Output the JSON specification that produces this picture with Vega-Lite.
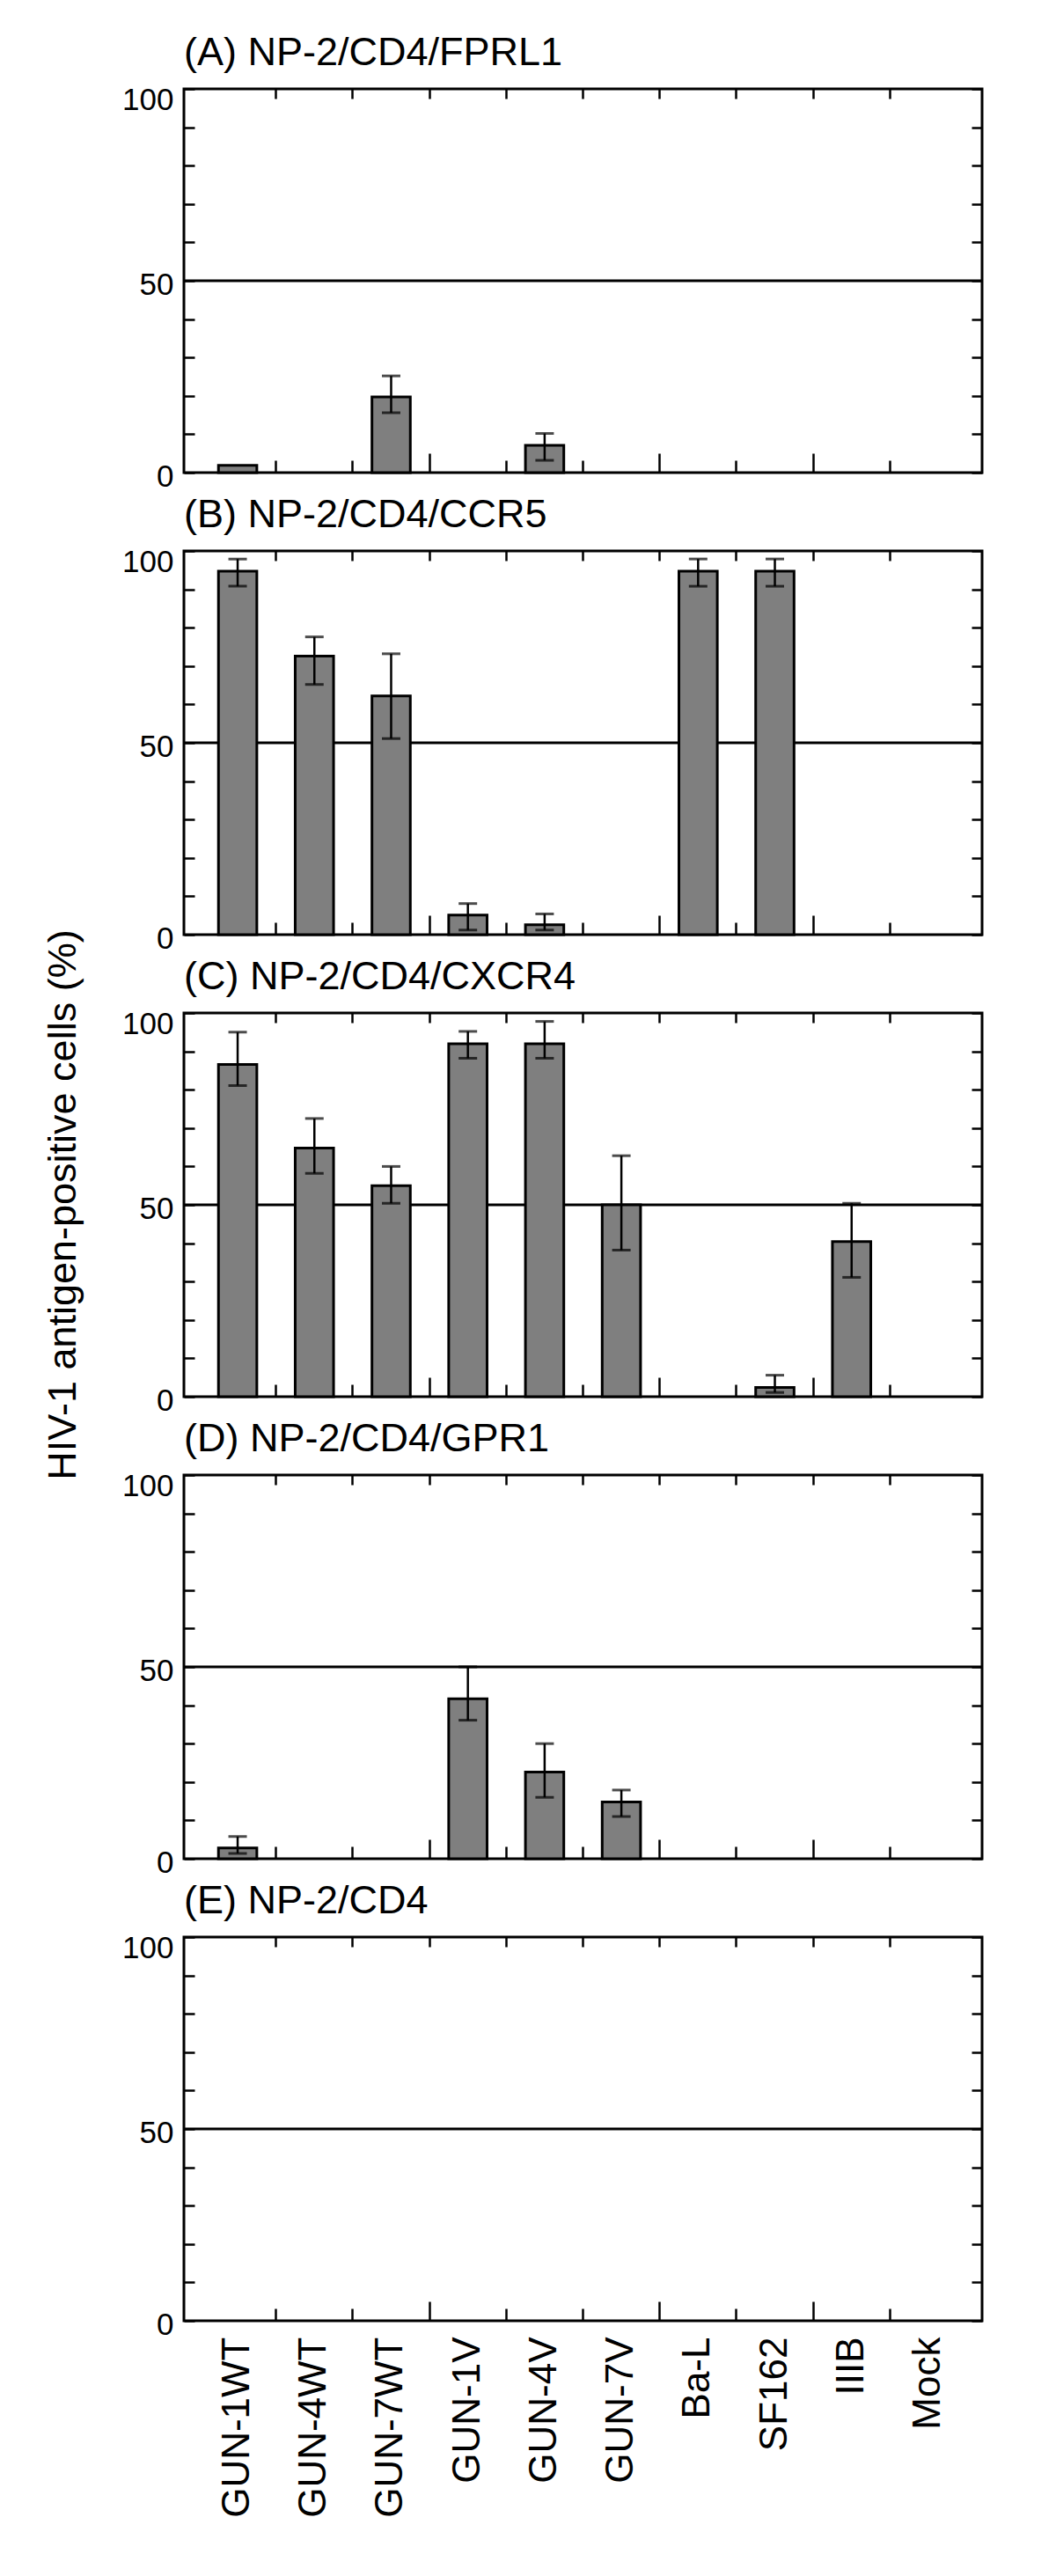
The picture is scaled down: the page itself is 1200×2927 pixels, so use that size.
{
"$schema": "https://vega.github.io/schema/vega-lite/v6.json",
"padding": {"left": 50, "top": 36, "right": 5, "bottom": 5},
"background": "white",
"datasets": {"bars": [
{"p":"A","cat":"GUN-1WT","val":1.9},
{"p":"A","cat":"GUN-7WT","val":19.7,"lo":15.6,"hi":25.2},
{"p":"A","cat":"GUN-4V","val":7.1,"lo":3.2,"hi":10.2},
{"p":"B","cat":"GUN-1WT","val":94.7,"lo":90.8,"hi":97.9},
{"p":"B","cat":"GUN-4WT","val":72.6,"lo":65.2,"hi":77.6},
{"p":"B","cat":"GUN-7WT","val":62.2,"lo":51.1,"hi":73.2},
{"p":"B","cat":"GUN-1V","val":5.1,"lo":1.2,"hi":8.1},
{"p":"B","cat":"GUN-4V","val":2.6,"lo":1.2,"hi":5.4},
{"p":"B","cat":"Ba-L","val":94.7,"lo":90.8,"hi":97.9},
{"p":"B","cat":"SF162","val":94.7,"lo":90.8,"hi":97.9},
{"p":"C","cat":"GUN-1WT","val":86.6,"lo":81.1,"hi":95.0},
{"p":"C","cat":"GUN-4WT","val":64.8,"lo":58.2,"hi":72.5},
{"p":"C","cat":"GUN-7WT","val":55.0,"lo":50.4,"hi":60.0},
{"p":"C","cat":"GUN-1V","val":92.0,"lo":88.2,"hi":95.2},
{"p":"C","cat":"GUN-4V","val":92.0,"lo":88.2,"hi":97.8},
{"p":"C","cat":"GUN-7V","val":50.0,"lo":38.2,"hi":62.8},
{"p":"C","cat":"SF162","val":2.4,"lo":1.1,"hi":5.6},
{"p":"C","cat":"IIIB","val":40.4,"lo":31.1,"hi":50.4},
{"p":"D","cat":"GUN-1WT","val":2.8,"lo":1.4,"hi":5.8},
{"p":"D","cat":"GUN-1V","val":41.7,"lo":36.1,"hi":50.0},
{"p":"D","cat":"GUN-4V","val":22.6,"lo":16.0,"hi":30.0},
{"p":"D","cat":"GUN-7V","val":14.8,"lo":11.0,"hi":17.9}
]},
"data": {"name": "bars"},
"spacing": 117,
"bounds": "flush",
"hconcat": [
{
"width": 40, "height": 2536,
"view": {"stroke": null},
"data": {"values": [{}]},
"mark": {"type": "text", "text": "HIV-1 antigen-positive cells (%)", "angle": 270, "font": "Liberation Sans", "fontSize": 45, "align": "center", "baseline": "middle", "color": "black"},
"encoding": {}
},
{
"spacing": 89,
"bounds": "flush",
"vconcat": [
{
"width": 907, "height": 436,
"title": "(A) NP-2/CD4/FPRL1",
"layer": [
{"data": {"values": [{}]}, "mark": {"type": "rule", "color": "black", "strokeWidth": 3}, "encoding": {"y": {"datum": 50, "type": "quantitative", "scale": {"domain": [0, 100], "nice": false}, "axis": null}}},
{"transform": [{"filter": "datum.p == 'A'"}], "mark": {"type": "bar", "fill": "#7f7f7f", "stroke": "black", "strokeWidth": 3, "width": {"band": 0.5}},
 "encoding": {
  "x": {"field": "cat", "type": "nominal", "sort": null, "scale": {"domain": ["GUN-1WT","GUN-4WT","GUN-7WT","GUN-1V","GUN-4V","GUN-7V","Ba-L","SF162","IIIB","Mock"], "paddingInner": 0, "paddingOuter": 0.2}, "axis": {"orient": "bottom", "values": ["GUN-1WT","GUN-4WT","GUN-1V","GUN-4V","Ba-L","IIIB"], "bandPosition": 1, "labels": false, "domain": false, "grid": false, "title": null, "tickSize": -14, "tickColor": "black", "tickWidth": 2.5}},
  "y": {"field": "val", "type": "quantitative", "scale": {"domain": [0, 100], "nice": false}, "axis": {"orient": "left", "values": [0,10,20,30,40,50,60,70,80,90,100], "labelExpr": "datum.value % 50 == 0 ? datum.label : ''", "tickSize": -12, "tickColor": "black", "tickWidth": 2.5, "labelPadding": 24, "labelFont": "Liberation Sans", "labelFontSize": 35, "labelColor": "black", "labelBaseline": "middle", "labelFlush": false, "labelOffset": {"condition": {"test": "datum.value == 100", "value": 12}, "value": 4}, "domain": false, "grid": false, "title": null}}}},
{"transform": [{"filter": "datum.p == 'A' && isValid(datum.lo)"}], "mark": {"type": "rule", "color": "black", "strokeWidth": 2.5},
 "encoding": {
  "x": {"field": "cat", "type": "nominal", "sort": null, "scale": {"domain": ["GUN-1WT","GUN-4WT","GUN-7WT","GUN-1V","GUN-4V","GUN-7V","Ba-L","SF162","IIIB","Mock"], "paddingInner": 0, "paddingOuter": 0.2}, "axis": {"orient": "top", "values": ["GUN-1WT","GUN-4WT","GUN-7WT","GUN-1V","GUN-4V","GUN-7V","Ba-L","SF162","IIIB"], "bandPosition": 1, "labels": false, "domain": false, "grid": false, "title": null, "tickSize": -11, "tickColor": "black", "tickWidth": 2.5}},
  "y": {"field": "lo", "type": "quantitative", "scale": {"domain": [0, 100], "nice": false}, "axis": {"orient": "right", "values": [0,10,20,30,40,50,60,70,80,90,100], "labels": false, "tickSize": -12, "tickColor": "black", "tickWidth": 2.5, "domain": false, "grid": false, "title": null}},
  "y2": {"field": "hi"}}},
{"transform": [{"filter": "datum.p == 'A' && isValid(datum.lo)"}], "mark": {"type": "tick", "color": "black", "size": 21, "thickness": 3},
 "encoding": {
  "x": {"field": "cat", "type": "nominal", "sort": null, "scale": {"domain": ["GUN-1WT","GUN-4WT","GUN-7WT","GUN-1V","GUN-4V","GUN-7V","Ba-L","SF162","IIIB","Mock"], "paddingInner": 0, "paddingOuter": 0.2}, "axis": null},
  "y": {"field": "lo", "type": "quantitative", "scale": {"domain": [0, 100], "nice": false}, "axis": null}}},
{"transform": [{"filter": "datum.p == 'A' && isValid(datum.lo)"}], "mark": {"type": "tick", "color": "black", "size": 21, "thickness": 3},
 "encoding": {
  "x": {"field": "cat", "type": "nominal", "sort": null, "scale": {"domain": ["GUN-1WT","GUN-4WT","GUN-7WT","GUN-1V","GUN-4V","GUN-7V","Ba-L","SF162","IIIB","Mock"], "paddingInner": 0, "paddingOuter": 0.2}, "axis": {"orient": "bottom", "values": ["GUN-7WT","GUN-7V","SF162"], "bandPosition": 1, "labels": false, "domain": false, "grid": false, "title": null, "tickSize": -22, "tickColor": "black", "tickWidth": 2.5}},
  "y": {"field": "hi", "type": "quantitative", "scale": {"domain": [0, 100], "nice": false}, "axis": null}}}
],
"resolve": {"axis": {"x": "independent", "y": "independent"}}
},
{
"width": 907, "height": 436,
"title": "(B) NP-2/CD4/CCR5",
"layer": [
{"data": {"values": [{}]}, "mark": {"type": "rule", "color": "black", "strokeWidth": 3}, "encoding": {"y": {"datum": 50, "type": "quantitative", "scale": {"domain": [0, 100], "nice": false}, "axis": null}}},
{"transform": [{"filter": "datum.p == 'B'"}], "mark": {"type": "bar", "fill": "#7f7f7f", "stroke": "black", "strokeWidth": 3, "width": {"band": 0.5}},
 "encoding": {
  "x": {"field": "cat", "type": "nominal", "sort": null, "scale": {"domain": ["GUN-1WT","GUN-4WT","GUN-7WT","GUN-1V","GUN-4V","GUN-7V","Ba-L","SF162","IIIB","Mock"], "paddingInner": 0, "paddingOuter": 0.2}, "axis": {"orient": "bottom", "values": ["GUN-1WT","GUN-4WT","GUN-1V","GUN-4V","Ba-L","IIIB"], "bandPosition": 1, "labels": false, "domain": false, "grid": false, "title": null, "tickSize": -14, "tickColor": "black", "tickWidth": 2.5}},
  "y": {"field": "val", "type": "quantitative", "scale": {"domain": [0, 100], "nice": false}, "axis": {"orient": "left", "values": [0,10,20,30,40,50,60,70,80,90,100], "labelExpr": "datum.value % 50 == 0 ? datum.label : ''", "tickSize": -12, "tickColor": "black", "tickWidth": 2.5, "labelPadding": 24, "labelFont": "Liberation Sans", "labelFontSize": 35, "labelColor": "black", "labelBaseline": "middle", "labelFlush": false, "labelOffset": {"condition": {"test": "datum.value == 100", "value": 12}, "value": 4}, "domain": false, "grid": false, "title": null}}}},
{"transform": [{"filter": "datum.p == 'B' && isValid(datum.lo)"}], "mark": {"type": "rule", "color": "black", "strokeWidth": 2.5},
 "encoding": {
  "x": {"field": "cat", "type": "nominal", "sort": null, "scale": {"domain": ["GUN-1WT","GUN-4WT","GUN-7WT","GUN-1V","GUN-4V","GUN-7V","Ba-L","SF162","IIIB","Mock"], "paddingInner": 0, "paddingOuter": 0.2}, "axis": {"orient": "top", "values": ["GUN-1WT","GUN-4WT","GUN-7WT","GUN-1V","GUN-4V","GUN-7V","Ba-L","SF162","IIIB"], "bandPosition": 1, "labels": false, "domain": false, "grid": false, "title": null, "tickSize": -11, "tickColor": "black", "tickWidth": 2.5}},
  "y": {"field": "lo", "type": "quantitative", "scale": {"domain": [0, 100], "nice": false}, "axis": {"orient": "right", "values": [0,10,20,30,40,50,60,70,80,90,100], "labels": false, "tickSize": -12, "tickColor": "black", "tickWidth": 2.5, "domain": false, "grid": false, "title": null}},
  "y2": {"field": "hi"}}},
{"transform": [{"filter": "datum.p == 'B' && isValid(datum.lo)"}], "mark": {"type": "tick", "color": "black", "size": 21, "thickness": 3},
 "encoding": {
  "x": {"field": "cat", "type": "nominal", "sort": null, "scale": {"domain": ["GUN-1WT","GUN-4WT","GUN-7WT","GUN-1V","GUN-4V","GUN-7V","Ba-L","SF162","IIIB","Mock"], "paddingInner": 0, "paddingOuter": 0.2}, "axis": null},
  "y": {"field": "lo", "type": "quantitative", "scale": {"domain": [0, 100], "nice": false}, "axis": null}}},
{"transform": [{"filter": "datum.p == 'B' && isValid(datum.lo)"}], "mark": {"type": "tick", "color": "black", "size": 21, "thickness": 3},
 "encoding": {
  "x": {"field": "cat", "type": "nominal", "sort": null, "scale": {"domain": ["GUN-1WT","GUN-4WT","GUN-7WT","GUN-1V","GUN-4V","GUN-7V","Ba-L","SF162","IIIB","Mock"], "paddingInner": 0, "paddingOuter": 0.2}, "axis": {"orient": "bottom", "values": ["GUN-7WT","GUN-7V","SF162"], "bandPosition": 1, "labels": false, "domain": false, "grid": false, "title": null, "tickSize": -22, "tickColor": "black", "tickWidth": 2.5}},
  "y": {"field": "hi", "type": "quantitative", "scale": {"domain": [0, 100], "nice": false}, "axis": null}}}
],
"resolve": {"axis": {"x": "independent", "y": "independent"}}
},
{
"width": 907, "height": 436,
"title": "(C) NP-2/CD4/CXCR4",
"layer": [
{"data": {"values": [{}]}, "mark": {"type": "rule", "color": "black", "strokeWidth": 3}, "encoding": {"y": {"datum": 50, "type": "quantitative", "scale": {"domain": [0, 100], "nice": false}, "axis": null}}},
{"transform": [{"filter": "datum.p == 'C'"}], "mark": {"type": "bar", "fill": "#7f7f7f", "stroke": "black", "strokeWidth": 3, "width": {"band": 0.5}},
 "encoding": {
  "x": {"field": "cat", "type": "nominal", "sort": null, "scale": {"domain": ["GUN-1WT","GUN-4WT","GUN-7WT","GUN-1V","GUN-4V","GUN-7V","Ba-L","SF162","IIIB","Mock"], "paddingInner": 0, "paddingOuter": 0.2}, "axis": {"orient": "bottom", "values": ["GUN-1WT","GUN-4WT","GUN-1V","GUN-4V","Ba-L","IIIB"], "bandPosition": 1, "labels": false, "domain": false, "grid": false, "title": null, "tickSize": -14, "tickColor": "black", "tickWidth": 2.5}},
  "y": {"field": "val", "type": "quantitative", "scale": {"domain": [0, 100], "nice": false}, "axis": {"orient": "left", "values": [0,10,20,30,40,50,60,70,80,90,100], "labelExpr": "datum.value % 50 == 0 ? datum.label : ''", "tickSize": -12, "tickColor": "black", "tickWidth": 2.5, "labelPadding": 24, "labelFont": "Liberation Sans", "labelFontSize": 35, "labelColor": "black", "labelBaseline": "middle", "labelFlush": false, "labelOffset": {"condition": {"test": "datum.value == 100", "value": 12}, "value": 4}, "domain": false, "grid": false, "title": null}}}},
{"transform": [{"filter": "datum.p == 'C' && isValid(datum.lo)"}], "mark": {"type": "rule", "color": "black", "strokeWidth": 2.5},
 "encoding": {
  "x": {"field": "cat", "type": "nominal", "sort": null, "scale": {"domain": ["GUN-1WT","GUN-4WT","GUN-7WT","GUN-1V","GUN-4V","GUN-7V","Ba-L","SF162","IIIB","Mock"], "paddingInner": 0, "paddingOuter": 0.2}, "axis": {"orient": "top", "values": ["GUN-1WT","GUN-4WT","GUN-7WT","GUN-1V","GUN-4V","GUN-7V","Ba-L","SF162","IIIB"], "bandPosition": 1, "labels": false, "domain": false, "grid": false, "title": null, "tickSize": -11, "tickColor": "black", "tickWidth": 2.5}},
  "y": {"field": "lo", "type": "quantitative", "scale": {"domain": [0, 100], "nice": false}, "axis": {"orient": "right", "values": [0,10,20,30,40,50,60,70,80,90,100], "labels": false, "tickSize": -12, "tickColor": "black", "tickWidth": 2.5, "domain": false, "grid": false, "title": null}},
  "y2": {"field": "hi"}}},
{"transform": [{"filter": "datum.p == 'C' && isValid(datum.lo)"}], "mark": {"type": "tick", "color": "black", "size": 21, "thickness": 3},
 "encoding": {
  "x": {"field": "cat", "type": "nominal", "sort": null, "scale": {"domain": ["GUN-1WT","GUN-4WT","GUN-7WT","GUN-1V","GUN-4V","GUN-7V","Ba-L","SF162","IIIB","Mock"], "paddingInner": 0, "paddingOuter": 0.2}, "axis": null},
  "y": {"field": "lo", "type": "quantitative", "scale": {"domain": [0, 100], "nice": false}, "axis": null}}},
{"transform": [{"filter": "datum.p == 'C' && isValid(datum.lo)"}], "mark": {"type": "tick", "color": "black", "size": 21, "thickness": 3},
 "encoding": {
  "x": {"field": "cat", "type": "nominal", "sort": null, "scale": {"domain": ["GUN-1WT","GUN-4WT","GUN-7WT","GUN-1V","GUN-4V","GUN-7V","Ba-L","SF162","IIIB","Mock"], "paddingInner": 0, "paddingOuter": 0.2}, "axis": {"orient": "bottom", "values": ["GUN-7WT","GUN-7V","SF162"], "bandPosition": 1, "labels": false, "domain": false, "grid": false, "title": null, "tickSize": -22, "tickColor": "black", "tickWidth": 2.5}},
  "y": {"field": "hi", "type": "quantitative", "scale": {"domain": [0, 100], "nice": false}, "axis": null}}}
],
"resolve": {"axis": {"x": "independent", "y": "independent"}}
},
{
"width": 907, "height": 436,
"title": "(D) NP-2/CD4/GPR1",
"layer": [
{"data": {"values": [{}]}, "mark": {"type": "rule", "color": "black", "strokeWidth": 3}, "encoding": {"y": {"datum": 50, "type": "quantitative", "scale": {"domain": [0, 100], "nice": false}, "axis": null}}},
{"transform": [{"filter": "datum.p == 'D'"}], "mark": {"type": "bar", "fill": "#7f7f7f", "stroke": "black", "strokeWidth": 3, "width": {"band": 0.5}},
 "encoding": {
  "x": {"field": "cat", "type": "nominal", "sort": null, "scale": {"domain": ["GUN-1WT","GUN-4WT","GUN-7WT","GUN-1V","GUN-4V","GUN-7V","Ba-L","SF162","IIIB","Mock"], "paddingInner": 0, "paddingOuter": 0.2}, "axis": {"orient": "bottom", "values": ["GUN-1WT","GUN-4WT","GUN-1V","GUN-4V","Ba-L","IIIB"], "bandPosition": 1, "labels": false, "domain": false, "grid": false, "title": null, "tickSize": -14, "tickColor": "black", "tickWidth": 2.5}},
  "y": {"field": "val", "type": "quantitative", "scale": {"domain": [0, 100], "nice": false}, "axis": {"orient": "left", "values": [0,10,20,30,40,50,60,70,80,90,100], "labelExpr": "datum.value % 50 == 0 ? datum.label : ''", "tickSize": -12, "tickColor": "black", "tickWidth": 2.5, "labelPadding": 24, "labelFont": "Liberation Sans", "labelFontSize": 35, "labelColor": "black", "labelBaseline": "middle", "labelFlush": false, "labelOffset": {"condition": {"test": "datum.value == 100", "value": 12}, "value": 4}, "domain": false, "grid": false, "title": null}}}},
{"transform": [{"filter": "datum.p == 'D' && isValid(datum.lo)"}], "mark": {"type": "rule", "color": "black", "strokeWidth": 2.5},
 "encoding": {
  "x": {"field": "cat", "type": "nominal", "sort": null, "scale": {"domain": ["GUN-1WT","GUN-4WT","GUN-7WT","GUN-1V","GUN-4V","GUN-7V","Ba-L","SF162","IIIB","Mock"], "paddingInner": 0, "paddingOuter": 0.2}, "axis": {"orient": "top", "values": ["GUN-1WT","GUN-4WT","GUN-7WT","GUN-1V","GUN-4V","GUN-7V","Ba-L","SF162","IIIB"], "bandPosition": 1, "labels": false, "domain": false, "grid": false, "title": null, "tickSize": -11, "tickColor": "black", "tickWidth": 2.5}},
  "y": {"field": "lo", "type": "quantitative", "scale": {"domain": [0, 100], "nice": false}, "axis": {"orient": "right", "values": [0,10,20,30,40,50,60,70,80,90,100], "labels": false, "tickSize": -12, "tickColor": "black", "tickWidth": 2.5, "domain": false, "grid": false, "title": null}},
  "y2": {"field": "hi"}}},
{"transform": [{"filter": "datum.p == 'D' && isValid(datum.lo)"}], "mark": {"type": "tick", "color": "black", "size": 21, "thickness": 3},
 "encoding": {
  "x": {"field": "cat", "type": "nominal", "sort": null, "scale": {"domain": ["GUN-1WT","GUN-4WT","GUN-7WT","GUN-1V","GUN-4V","GUN-7V","Ba-L","SF162","IIIB","Mock"], "paddingInner": 0, "paddingOuter": 0.2}, "axis": null},
  "y": {"field": "lo", "type": "quantitative", "scale": {"domain": [0, 100], "nice": false}, "axis": null}}},
{"transform": [{"filter": "datum.p == 'D' && isValid(datum.lo)"}], "mark": {"type": "tick", "color": "black", "size": 21, "thickness": 3},
 "encoding": {
  "x": {"field": "cat", "type": "nominal", "sort": null, "scale": {"domain": ["GUN-1WT","GUN-4WT","GUN-7WT","GUN-1V","GUN-4V","GUN-7V","Ba-L","SF162","IIIB","Mock"], "paddingInner": 0, "paddingOuter": 0.2}, "axis": {"orient": "bottom", "values": ["GUN-7WT","GUN-7V","SF162"], "bandPosition": 1, "labels": false, "domain": false, "grid": false, "title": null, "tickSize": -22, "tickColor": "black", "tickWidth": 2.5}},
  "y": {"field": "hi", "type": "quantitative", "scale": {"domain": [0, 100], "nice": false}, "axis": null}}}
],
"resolve": {"axis": {"x": "independent", "y": "independent"}}
},
{
"width": 907, "height": 436,
"title": "(E) NP-2/CD4",
"layer": [
{"data": {"values": [{}]}, "mark": {"type": "rule", "color": "black", "strokeWidth": 3}, "encoding": {"y": {"datum": 50, "type": "quantitative", "scale": {"domain": [0, 100], "nice": false}, "axis": null}}},
{"transform": [{"filter": "datum.p == 'E'"}], "mark": {"type": "bar", "fill": "#7f7f7f", "stroke": "black", "strokeWidth": 3, "width": {"band": 0.5}},
 "encoding": {
  "x": {"field": "cat", "type": "nominal", "sort": null, "scale": {"domain": ["GUN-1WT","GUN-4WT","GUN-7WT","GUN-1V","GUN-4V","GUN-7V","Ba-L","SF162","IIIB","Mock"], "paddingInner": 0, "paddingOuter": 0.2}, "axis": {"orient": "bottom", "values": ["GUN-1WT","GUN-4WT","GUN-1V","GUN-4V","Ba-L","IIIB"], "bandPosition": 1, "labels": false, "domain": false, "grid": false, "title": null, "tickSize": -14, "tickColor": "black", "tickWidth": 2.5}},
  "y": {"field": "val", "type": "quantitative", "scale": {"domain": [0, 100], "nice": false}, "axis": {"orient": "left", "values": [0,10,20,30,40,50,60,70,80,90,100], "labelExpr": "datum.value % 50 == 0 ? datum.label : ''", "tickSize": -12, "tickColor": "black", "tickWidth": 2.5, "labelPadding": 24, "labelFont": "Liberation Sans", "labelFontSize": 35, "labelColor": "black", "labelBaseline": "middle", "labelFlush": false, "labelOffset": {"condition": {"test": "datum.value == 100", "value": 12}, "value": 4}, "domain": false, "grid": false, "title": null}}}},
{"transform": [{"filter": "datum.p == 'E' && isValid(datum.lo)"}], "mark": {"type": "rule", "color": "black", "strokeWidth": 2.5},
 "encoding": {
  "x": {"field": "cat", "type": "nominal", "sort": null, "scale": {"domain": ["GUN-1WT","GUN-4WT","GUN-7WT","GUN-1V","GUN-4V","GUN-7V","Ba-L","SF162","IIIB","Mock"], "paddingInner": 0, "paddingOuter": 0.2}, "axis": {"orient": "top", "values": ["GUN-1WT","GUN-4WT","GUN-7WT","GUN-1V","GUN-4V","GUN-7V","Ba-L","SF162","IIIB"], "bandPosition": 1, "labels": false, "domain": false, "grid": false, "title": null, "tickSize": -11, "tickColor": "black", "tickWidth": 2.5}},
  "y": {"field": "lo", "type": "quantitative", "scale": {"domain": [0, 100], "nice": false}, "axis": {"orient": "right", "values": [0,10,20,30,40,50,60,70,80,90,100], "labels": false, "tickSize": -12, "tickColor": "black", "tickWidth": 2.5, "domain": false, "grid": false, "title": null}},
  "y2": {"field": "hi"}}},
{"transform": [{"filter": "datum.p == 'E' && isValid(datum.lo)"}], "mark": {"type": "tick", "color": "black", "size": 21, "thickness": 3},
 "encoding": {
  "x": {"field": "cat", "type": "nominal", "sort": null, "scale": {"domain": ["GUN-1WT","GUN-4WT","GUN-7WT","GUN-1V","GUN-4V","GUN-7V","Ba-L","SF162","IIIB","Mock"], "paddingInner": 0, "paddingOuter": 0.2}, "axis": {"orient": "bottom", "ticks": false, "domain": false, "grid": false, "title": null, "labelAngle": 270, "labelFont": "Liberation Sans", "labelFontSize": 44, "labelPadding": 18, "labelLimit": 0, "labelColor": "black"}},
  "y": {"field": "lo", "type": "quantitative", "scale": {"domain": [0, 100], "nice": false}, "axis": null}}},
{"transform": [{"filter": "datum.p == 'E' && isValid(datum.lo)"}], "mark": {"type": "tick", "color": "black", "size": 21, "thickness": 3},
 "encoding": {
  "x": {"field": "cat", "type": "nominal", "sort": null, "scale": {"domain": ["GUN-1WT","GUN-4WT","GUN-7WT","GUN-1V","GUN-4V","GUN-7V","Ba-L","SF162","IIIB","Mock"], "paddingInner": 0, "paddingOuter": 0.2}, "axis": {"orient": "bottom", "values": ["GUN-7WT","GUN-7V","SF162"], "bandPosition": 1, "labels": false, "domain": false, "grid": false, "title": null, "tickSize": -22, "tickColor": "black", "tickWidth": 2.5}},
  "y": {"field": "hi", "type": "quantitative", "scale": {"domain": [0, 100], "nice": false}, "axis": null}}}
],
"resolve": {"axis": {"x": "independent", "y": "independent"}}
}
]
}
],
"config": {
 "view": {"stroke": "black", "strokeWidth": 3},
 "font": "Liberation Sans",
 "title": {"anchor": "start", "frame": "group", "baseline": "alphabetic", "offset": 13, "font": "Liberation Sans", "fontSize": 45, "fontWeight": "normal", "color": "black"}
}
}
